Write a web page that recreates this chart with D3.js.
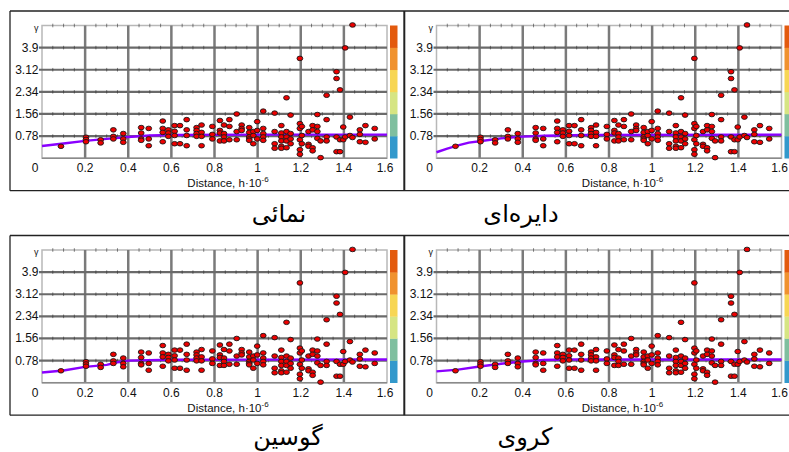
<!DOCTYPE html>
<html>
<head>
<meta charset="utf-8">
<script src="https://cdn.jsdelivr.net/npm/d3@7"></script>
<style>
  body { margin: 0; background: #fff; }
  svg { display: block; }
</style>
</head>
<body>
<svg id="chart"></svg>
<script>
"use strict";

// Panel titles (model names), in reading order
const panel_titles = ["نمائی", "دایره\u200Cای", "گوسین", "کروی"];

// Axis ticks
const x_ticks = [0, 0.2, 0.4, 0.6, 0.8, 1, 1.2, 1.4, 1.6];
const x_tick_labels = ["0", "0.2", "0.4", "0.6", "0.8", "1", "1.2", "1.4", "1.6"];
const y_ticks = [0.78, 1.56, 2.34, 3.12, 3.9, 4.68];
const y_tick_labels = ["0.78", "1.56", "2.34", "3.12", "3.9", "γ"];

// Colour bar segments, bottom to top
const bar_colors = ["#3399cc", "#7fbf9f", "#d6e583", "#f7d654", "#f0922f", "#e35a0e"];

// Experimental semivariogram points (same in every panel)
const lag_h = [
    0.088,
    0.204, 0.204, 0.204,
    0.272, 0.272,
    0.331, 0.331, 0.331,
    0.377, 0.377, 0.377,
    0.46, 0.46, 0.46, 0.46,
    0.495, 0.495, 0.495,
    0.56, 0.56, 0.56, 0.56,
    0.586, 0.586, 0.586,
    0.615, 0.615, 0.615, 0.615,
    0.64, 0.64,
    0.671, 0.671, 0.671, 0.671,
    0.717, 0.717, 0.717, 0.717,
    0.74, 0.74, 0.74, 0.74,
    0.79, 0.79, 0.79,
    0.825, 0.825, 0.825, 0.825,
    0.844, 0.844, 0.844, 0.844,
    0.869, 0.869, 0.869,
    0.903, 0.903, 0.903,
    0.926, 0.926, 0.926,
    0.961, 0.961, 0.961, 0.961, 0.961,
    0.98, 0.98, 0.98,
    0.998, 0.998, 0.998,
    1.026, 1.026, 1.026, 1.026, 1.026,
    1.079, 1.079, 1.079, 1.079,
    1.11, 1.11, 1.11, 1.11, 1.11, 1.11,
    1.134, 1.134, 1.134, 1.134, 1.134,
    1.153, 1.153, 1.153, 1.153,
    1.196, 1.196, 1.196, 1.196, 1.196, 1.196,
    1.205, 1.205, 1.205,
    1.236, 1.236, 1.236,
    1.255, 1.255, 1.255, 1.255,
    1.277, 1.277, 1.277, 1.277,
    1.292, 1.292,
    1.32, 1.32, 1.32, 1.32,
    1.366, 1.366, 1.366, 1.366,
    1.382, 1.382, 1.382,
    1.397, 1.397,
    1.406, 1.406,
    1.428, 1.428,
    1.44, 1.44,
    1.474, 1.474, 1.474,
    1.5, 1.5,
    1.543, 1.543
];
const lag_gamma = [
    0.42,
    0.74, 0.66, 0.58,
    0.65, 0.54,
    1.0, 0.77, 0.68,
    0.87, 0.68, 0.56,
    1.08, 0.89, 0.68, 0.63,
    1.05, 0.68, 0.44,
    1.31, 1.05, 0.91, 0.58,
    1.0, 0.89, 0.77,
    1.15, 0.95, 0.8, 0.51,
    1.15, 0.51,
    1.36, 1.0, 0.8, 0.44,
    1.08, 0.98, 0.87, 0.77,
    1.17, 0.91, 0.77, 0.44,
    1.12, 0.84, 0.68,
    1.33, 0.98, 0.89, 0.61,
    1.17, 0.87, 0.75, 0.61,
    1.36, 1.12, 0.65,
    1.56, 0.94, 0.65,
    1.17, 1.05, 0.98,
    1.08, 0.91, 0.75, 0.68, 0.63,
    0.94, 0.8, 0.51,
    1.29, 0.98, 0.68,
    1.66, 1.05, 0.87, 0.75, 0.63,
    1.59, 0.94, 0.51, 0.35,
    1.15, 0.89, 0.75, 0.61, 0.42, 0.35,
    2.13, 0.94, 0.75, 0.61, 0.37,
    1.52, 0.87, 0.68, 0.51,
    3.52, 1.22, 1.05, 0.65, 0.3, 0.14,
    1.12, 0.8, 0.51,
    0.94, 0.49, 0.42,
    1.15, 1.0, 0.37, 0.26,
    1.54, 1.12, 0.94, 0.7,
    0.61, 0.02,
    2.22, 1.36, 0.75, 0.61,
    3.05, 2.81, 0.75, 0.23,
    2.41, 0.65, 0.23,
    1.1, 0.65,
    3.89, 0.75,
    1.45, 0.8,
    4.7, 0.73,
    1.0, 0.84, 0.58,
    1.15, 0.56,
    1.05, 0.68
];

// Fitted model curves
const exp_h = [0, 0.1, 0.2, 0.3, 0.4, 0.5, 0.6, 1.0, 1.6];
const exp_gamma = [0.43, 0.52, 0.61, 0.68, 0.75, 0.8, 0.82, 0.83, 0.83];
const circ_h = [0, 0.05, 0.1, 0.15, 0.2, 0.3, 0.4, 0.5, 0.7, 1.6];
const circ_gamma = [0.21, 0.34, 0.45, 0.55, 0.6, 0.7, 0.76, 0.79, 0.82, 0.83];
const gauss_h = [0, 0.1, 0.2, 0.3, 0.35, 0.4, 0.6, 1.6];
const gauss_gamma = [0.36, 0.43, 0.56, 0.63, 0.72, 0.78, 0.81, 0.82];
const sph_h = [0, 0.1, 0.2, 0.3, 0.4, 0.5, 0.6, 1.6];
const sph_gamma = [0.4, 0.46, 0.57, 0.67, 0.75, 0.8, 0.82, 0.82];

const model_h = [exp_h, circ_h, gauss_h, sph_h];
const model_gamma = [exp_gamma, circ_gamma, gauss_gamma, sph_gamma];

const WIDTH = 789, HEIGHT = 452;
const DX = 394.5, DY = 224.5;
const panel_offsets = [[0, 0], [DX, 0], [0, DY], [DX, DY]];

const svg = d3.select("#chart")
    .attr("width", WIDTH)
    .attr("height", HEIGHT)
    .style("font-family", "'Liberation Sans', Arial, sans-serif");

svg.append("rect").attr("width", WIDTH).attr("height", HEIGHT).attr("fill", "white");

// Scales for one panel (panels are translated copies)
const x_scale = d3.scaleLinear().domain([0, 1.6]).range([42, 387]);
const y_scale = d3.scaleLinear().domain([0, 4.68]).range([158.2, 25.5]);

const line = d3.line()
    .x(function(d) { return x_scale(d[0]); })
    .y(function(d) { return y_scale(d[1]); });

// Row frames
[0, DY].forEach(function (oy) {
    const top = 11 + oy, bottom = 190.7 + oy;
    const frame = svg.append("g").attr("stroke", "#222").attr("stroke-width", 1.3).attr("fill", "none");
    frame.append("line").attr("x1", 10).attr("x2", WIDTH).attr("y1", top).attr("y2", top);
    frame.append("line").attr("x1", 10).attr("x2", WIDTH).attr("y1", bottom).attr("y2", bottom);
    frame.append("line").attr("x1", 10).attr("x2", 10).attr("y1", top).attr("y2", bottom);
    frame.append("line").attr("x1", 404.3).attr("x2", 404.3).attr("y1", top).attr("y2", bottom)
        .attr("stroke-width", 2);
});

panel_offsets.forEach(function (off, p) {
    const g = svg.append("g").attr("transform", "translate(" + off[0] + "," + off[1] + ")");
    const x0 = x_scale.range()[0], x1 = x_scale.range()[1];
    const y0 = y_scale.range()[0], y1 = y_scale.range()[1];

    // plot border (light gray)
    g.append("rect")
        .attr("x", x0).attr("y", y1)
        .attr("width", x1 - x0).attr("height", y0 - y1)
        .attr("fill", "white")
        .attr("stroke", "#b8b8b8").attr("stroke-width", 1.5);

    // vertical grid lines
    g.selectAll(".vgrid").data(x_ticks.slice(1, -1)).enter().append("line")
        .attr("x1", function(d) { return x_scale(d); })
        .attr("x2", function(d) { return x_scale(d); })
        .attr("y1", y1).attr("y2", y0)
        .attr("stroke", "#7a7a7a").attr("stroke-width", 2.5);

    // horizontal grid lines
    g.selectAll(".hgrid").data(y_ticks.slice(0, -1)).enter().append("line")
        .attr("x1", x0 - 3).attr("x2", x1)
        .attr("y1", function(d) { return y_scale(d); })
        .attr("y2", function(d) { return y_scale(d); })
        .attr("stroke", "#6a6a6a").attr("stroke-width", 2.2);

    // minor ticks on horizontal grid lines and top border
    const minor_x = d3.range(1, 32).filter(function(i) { return i % 4 !== 0; })
        .map(function(i) { return i * 0.05; });
    y_ticks.forEach(function (yv) {
        g.selectAll(null).data(minor_x).enter().append("line")
            .attr("x1", function(d) { return x_scale(d); })
            .attr("x2", function(d) { return x_scale(d); })
            .attr("y1", y_scale(yv) - 1.8).attr("y2", y_scale(yv) + 1.8)
            .attr("stroke", "#333").attr("stroke-width", 0.6);
    });
    // bottom border
    g.append("line").attr("x1", x0).attr("x2", x1).attr("y1", y0).attr("y2", y0)
        .attr("stroke", "#8a8a8a").attr("stroke-width", 1.5);

    // y tick labels
    g.selectAll(".ylab").data(y_ticks).enter().append("text")
        .attr("x", 38.5)
        .attr("y", function(d) { return y_scale(d) + 4; })
        .attr("text-anchor", "end")
        .attr("font-size", function(d, i) { return i === y_ticks.length - 1 ? 9 : 12; })
        .attr("fill", "#111")
        .attr("dy", function(d, i) { return i === y_ticks.length - 1 ? 1 : 0; })
        .text(function(d, i) { return y_tick_labels[i]; });

    // x tick labels
    g.selectAll(".xlab").data(x_ticks).enter().append("text")
        .attr("x", function(d, i) { return i === 0 ? x_scale(d) - 7 : x_scale(d) - (i === x_ticks.length - 1 ? 2 : 0); })
        .attr("y", 172)
        .attr("text-anchor", "middle")
        .attr("font-size", 12)
        .attr("fill", "#111")
        .text(function(d, i) { return x_tick_labels[i]; });

    // axis title
    const title = g.append("text")
        .attr("x", 228).attr("y", 187)
        .attr("text-anchor", "middle")
        .attr("font-size", 11.5)
        .attr("fill", "#111");
    title.append("tspan").text("Distance, h\u00B710");
    title.append("tspan").attr("dy", -5).attr("font-size", 8).text("-6");

    // colour bar
    const seg = (y0 - y1) / bar_colors.length;
    g.selectAll(".bar").data(bar_colors).enter().append("rect")
        .attr("x", 390).attr("width", 7.5)
        .attr("y", function(d, i) { return y0 - (i + 1) * seg; })
        .attr("height", seg + 0.3)
        .attr("fill", function(d) { return d; });

    // model curve
    const curve = model_h[p].map(function(h, i) { return [h, model_gamma[p][i]]; });
    g.append("path")
        .datum(curve)
        .attr("d", line)
        .attr("fill", "none")
        .attr("stroke", "#8a00ff")
        .attr("stroke-width", 2.4);

    // experimental points
    g.selectAll(".pt").data(lag_h).enter().append("ellipse")
        .attr("cx", function(d) { return x_scale(d); })
        .attr("cy", function(d, i) { return y_scale(lag_gamma[i]); })
        .attr("rx", 2.9).attr("ry", 2.3)
        .attr("fill", "#ee0000")
        .attr("stroke", "#1a1a1a")
        .attr("stroke-width", 0.9);
});

// Persian model names under each panel
const title_pos = [[279, 222], [521, 222], [288, 445], [525, 445]];
svg.selectAll(".ptitle").data(panel_titles).enter().append("text")
    .attr("x", function(d, i) { return title_pos[i][0]; })
    .attr("y", function(d, i) { return title_pos[i][1]; })
    .attr("text-anchor", "middle")
    .attr("direction", "rtl")
    .attr("font-family", "'DejaVu Sans', sans-serif")
    .attr("font-size", 24)
    .attr("fill", "#000")
    .text(function(d) { return d; });
</script>
</body>
</html>
